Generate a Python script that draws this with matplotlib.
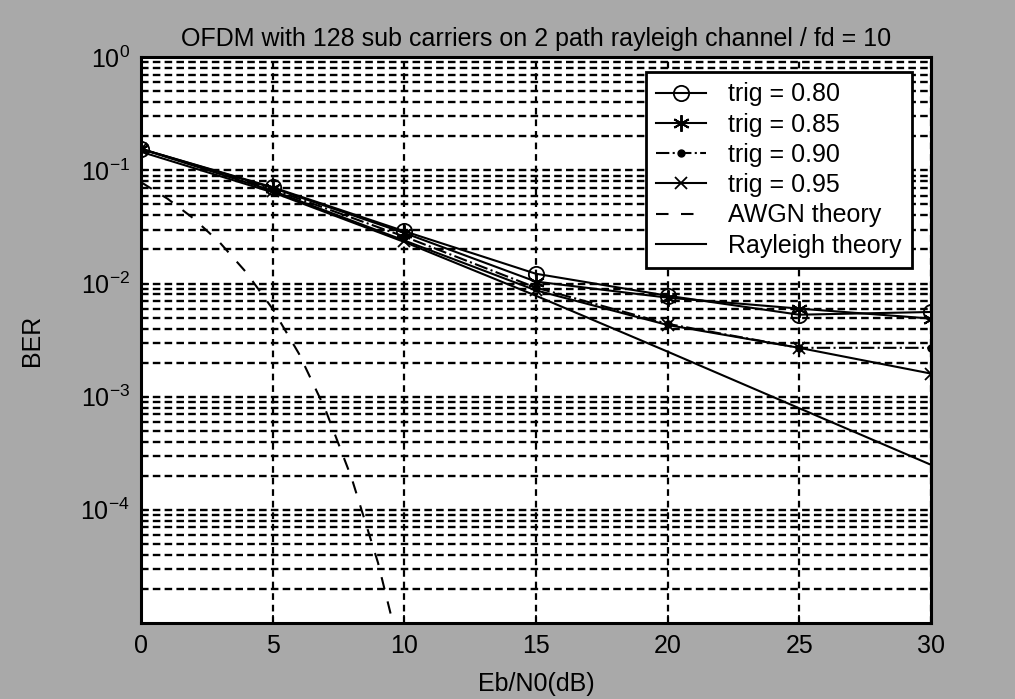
import matplotlib
matplotlib.use("Agg")
import matplotlib.pyplot as plt
from matplotlib.ticker import LogLocator, FixedLocator, NullFormatter

plt.rcParams['font.family'] = ['Liberation Sans', 'DejaVu Sans']
plt.rcParams['mathtext.fontset'] = 'custom'
plt.rcParams['mathtext.rm'] = 'Liberation Sans'
plt.rcParams['mathtext.it'] = 'Liberation Sans'

# ---- data ----
snr = [0, 5, 10, 15, 20, 25, 30]
trig_080 = [0.155, 0.071, 0.029, 0.0122, 0.0078, 0.0053, 0.0056]
trig_085 = [0.155, 0.070, 0.028, 0.0104, 0.0075, 0.0060, 0.0049]
trig_090 = [0.155, 0.068, 0.026, 0.0092, 0.0044, 0.0027, 0.0027]
trig_095 = [0.155, 0.066, 0.024, 0.0087, 0.0043, 0.0027, 0.0016]
rayleigh_theory = [0.146, 0.064, 0.0233, 0.0078, 0.0025, 0.00079, 0.00025]
snr_awgn = [0, 1, 2, 3, 4, 5, 6, 7, 8, 9, 10]
awgn_theory = [0.0786, 0.0563, 0.0375, 0.0229, 0.0125, 0.00595, 0.00239,
               0.00077, 0.00019, 3.4e-5, 3.9e-6]
title = "OFDM with 128 sub carriers on 2 path rayleigh channel / fd = 10"
xticks = [0, 5, 10, 15, 20, 25, 30]
yticks = [1e0, 1e-1, 1e-2, 1e-3, 1e-4]
ytick_labels = [r'$\mathregular{10^{0}}$', r'$\mathregular{10^{-1}}$',
                r'$\mathregular{10^{-2}}$', r'$\mathregular{10^{-3}}$',
                r'$\mathregular{10^{-4}}$']

FS = 18

fig = plt.figure(figsize=(10.15, 6.99), dpi=100, facecolor='#a9a9a9')
ax = fig.add_axes([0.139, 0.109, 0.778, 0.809])
ax.set_facecolor('white')
ax.set_yscale('log')
ax.set_xlim(0, 30)
ax.set_ylim(1e-5, 1)

grid_kw = dict(color='black', linestyle=(0, (3.2, 1.8)), linewidth=1.7)
ax.yaxis.set_minor_locator(LogLocator(base=10, subs=range(2, 10), numticks=20))
ax.yaxis.set_minor_formatter(NullFormatter())
ax.grid(True, which='major', axis='y', **grid_kw)
ax.grid(True, which='minor', axis='y', **grid_kw)
ax.grid(True, which='major', axis='x', color='black',
        linestyle=(0, (3.0, 2.2)), linewidth=1.6)
ax.set_axisbelow(True)

lw = 1.5
ax.plot(snr, trig_080, color='black', lw=lw, marker='o', ms=11,
        mfc='none', mew=1.3, label='trig = 0.80')
ax.plot(snr, trig_085, color='black', lw=lw, marker=(6, 2, 0), ms=12,
        mew=1.4, label='trig = 0.85')
ax.plot(snr, trig_090, color='black', lw=lw, linestyle='-.', marker='.',
        ms=10, label='trig = 0.90')
ax.plot(snr, trig_095, color='black', lw=lw, marker='x', ms=9,
        mew=1.3, label='trig = 0.95')
ax.plot(snr_awgn, awgn_theory, color='black', lw=lw, linestyle=(0, (6, 6)),
        label='AWGN theory')
ax.plot(snr, rayleigh_theory, color='black', lw=lw, linestyle='-',
        label='Rayleigh theory')

ax.set_xticks(xticks)
ax.set_xticklabels([str(v) for v in xticks])
ax.yaxis.set_major_locator(FixedLocator(yticks))
ax.set_yticklabels(ytick_labels)
ax.tick_params(axis='both', which='major', direction='in', length=6,
               width=1.2, labelsize=FS, pad=8)
ax.tick_params(axis='y', which='minor', length=0)
for s in ax.spines.values():
    s.set_linewidth(2.2)
    s.set_color('black')

ax.set_title(title, fontsize=FS, pad=8)
ax.set_xlabel('Eb/N0(dB)', fontsize=FS, labelpad=10)
ax.set_ylabel('BER', fontsize=FS, labelpad=26)

leg = ax.legend(loc='upper right', bbox_to_anchor=(0.976, 0.9735),
                borderaxespad=0, fontsize=FS, handlelength=2.0,
                labelspacing=0.25, fancybox=False, framealpha=1,
                edgecolor='black', borderpad=0.4, handletextpad=0.9)
leg.get_frame().set_linewidth(2.0)

fig.savefig('out.png', dpi=100, facecolor=fig.get_facecolor())
